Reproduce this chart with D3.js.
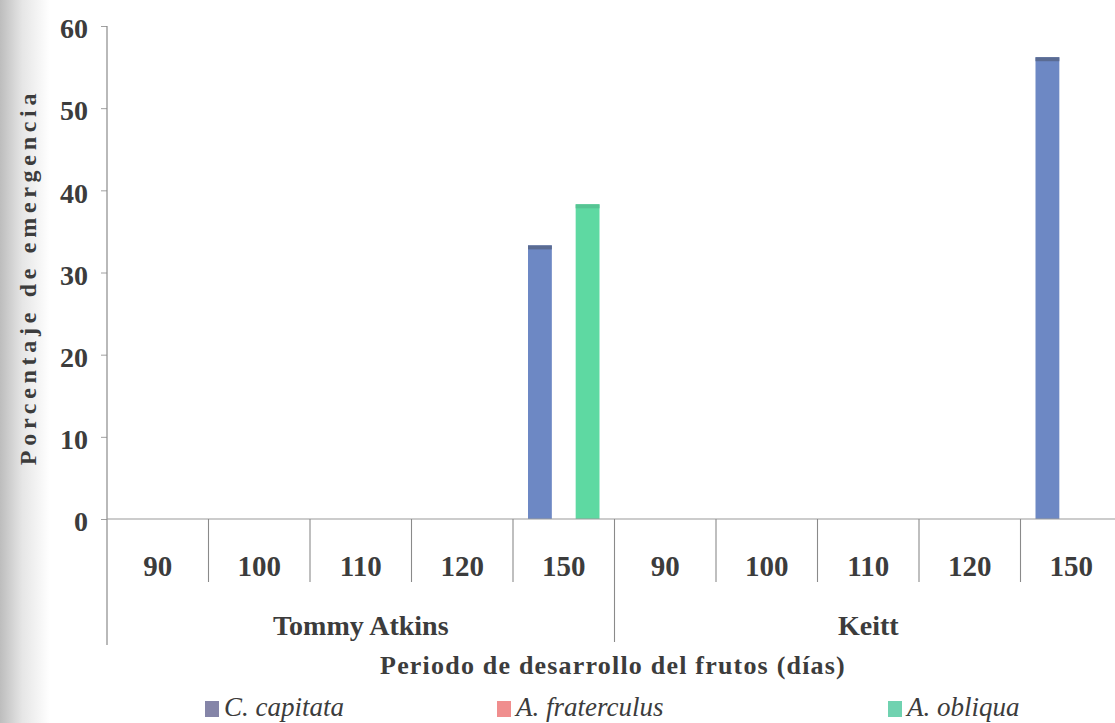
<!DOCTYPE html>
<html><head><meta charset="utf-8">
<script src="https://cdn.jsdelivr.net/npm/d3@7/dist/d3.min.js"></script>
<style>body{margin:0;background:#fff}svg{display:block}</style>
</head><body>
<svg id="c" width="1115" height="723"></svg>
<script>
const varieties = ["Tommy Atkins", "Keitt"];
const periods = ["90", "100", "110", "120", "150"];
const seriesNames = ["C. capitata", "A. fraterculus", "A. obliqua"];
const capitata = [0, 0, 0, 0, 33.3, 0, 0, 0, 0, 56.2];
const fraterculus = [0, 0, 0, 0, 0, 0, 0, 0, 0, 0];
const obliqua = [0, 0, 0, 0, 38.3, 0, 0, 0, 0, 0];
const yTicks = [0, 10, 20, 30, 40, 50, 60];
const xTitle = "Periodo de desarrollo del frutos (días)";
const yTitle = "Porcentaje de emergencia";

const seriesValues = [capitata, fraterculus, obliqua];
const barColors = ["#6d88c4", "#ee8c8c", "#5ed9a2"];
const barTops = ["#5a6b92", "#c07070", "#56c493"];
const legendColors = ["#8585a8", "#f08e8e", "#70d2b0"];
const textColor = "#3c3c3c";

const svg = d3.select("#c");
const defs = svg.append("defs");
const lg = defs.append("linearGradient").attr("id", "shade").attr("x1", 0).attr("x2", 1);
lg.append("stop").attr("offset", 0).attr("stop-color", "#bdbdbd");
lg.append("stop").attr("offset", 0.45).attr("stop-color", "#e6e6e6");
lg.append("stop").attr("offset", 1).attr("stop-color", "#ffffff");
svg.append("rect").attr("width", 1115).attr("height", 723).attr("fill", "#fff");
svg.append("rect").attr("width", 50).attr("height", 723).attr("fill", "url(#shade)");

const cats = [];
varieties.forEach(v => periods.forEach(p => cats.push(v + "|" + p)));

const x0 = 107, x1 = 1122, yBase = 519, yTop = 26;
const x = d3.scaleBand().domain(cats).range([x0, x1]).padding(0);
const xi = d3.scaleBand().domain(seriesNames).range([15, x.bandwidth() - 15]).padding(0);
const y = d3.scaleLinear().domain([0, 60]).range([yBase, yTop]);

const font = "'Liberation Serif', 'Times New Roman', serif";

seriesNames.forEach((s, si) => {
  const g = svg.append("g");
  g.selectAll("rect.bar").data(cats).join("rect").attr("class", "bar")
    .attr("x", c => x(c) + xi(s))
    .attr("width", xi.bandwidth())
    .attr("y", (c, i) => y(seriesValues[si][i]))
    .attr("height", (c, i) => yBase - y(seriesValues[si][i]))
    .attr("fill", barColors[si]);
  g.selectAll("rect.top").data(cats.filter((c, i) => seriesValues[si][i] > 0)).join("rect").attr("class", "top")
    .attr("x", c => x(c) + xi(s))
    .attr("width", xi.bandwidth())
    .attr("y", c => y(seriesValues[si][cats.indexOf(c)]))
    .attr("height", 4)
    .attr("fill", barTops[si]);
});

const yAxis = d3.axisLeft(y).tickValues(yTicks).tickSize(6).tickPadding(13);
const gy = svg.append("g").attr("transform", `translate(${x0},0)`).call(yAxis);
gy.select(".domain").remove();
gy.selectAll("line").attr("stroke", "#a0a0a0");
gy.selectAll("text").attr("font-family", font).attr("font-weight", "bold")
  .attr("font-size", 28).attr("fill", textColor).attr("dy", "0.42em");
svg.append("line").attr("x1", x0).attr("x2", x0).attr("y1", yTop).attr("y2", 645)
  .attr("stroke", "#8a8a8a").attr("stroke-width", 1.2);

svg.append("line").attr("x1", x0).attr("x2", 1115).attr("y1", yBase).attr("y2", yBase)
  .attr("stroke", "#9a9a9a").attr("stroke-width", 1.2);

cats.forEach((c, i) => {
  if (i === 0) return;
  const big = i % periods.length === 0;
  svg.append("line").attr("x1", x(c)).attr("x2", x(c)).attr("y1", yBase)
    .attr("y2", big ? 642 : 582).attr("stroke", "#8a8a8a").attr("stroke-width", 1.1);
});

svg.append("g").selectAll("text").data(cats).join("text")
  .attr("x", c => x(c) + x.bandwidth() / 2)
  .attr("y", 576)
  .attr("text-anchor", "middle")
  .attr("font-family", font).attr("font-weight", "bold").attr("font-size", 29)
  .attr("fill", textColor)
  .text(c => c.split("|")[1]);

varieties.forEach(v => {
  const first = x(v + "|" + periods[0]);
  const last = x(v + "|" + periods[periods.length - 1]) + x.bandwidth();
  svg.append("text").attr("x", (first + last) / 2).attr("y", 635)
    .attr("text-anchor", "middle").attr("font-family", font).attr("font-weight", "bold")
    .attr("font-size", 28).attr("fill", textColor).text(v);
});

svg.append("text").attr("x", 613).attr("y", 674).attr("text-anchor", "middle")
  .attr("font-family", font).attr("font-weight", "bold").attr("font-size", 26)
  .attr("letter-spacing", 1.2).attr("fill", textColor).text(xTitle);
svg.append("text").attr("transform", "translate(36,277) rotate(-90)")
  .attr("text-anchor", "middle").attr("font-family", font).attr("font-weight", "bold")
  .attr("font-size", 24).attr("letter-spacing", 4.7).attr("fill", textColor).text(yTitle);

const legendX = [205, 497, 888];
seriesNames.forEach((s, si) => {
  const g = svg.append("g").attr("transform", `translate(${legendX[si]},716)`);
  g.append("rect").attr("x", 0).attr("y", -15).attr("width", 14).attr("height", 16).attr("fill", legendColors[si]);
  g.append("text").attr("x", 19).attr("y", 0).attr("font-family", font).attr("font-style", "italic")
    .attr("font-size", 27).attr("fill", textColor).text(s);
});
</script>
</body></html>
